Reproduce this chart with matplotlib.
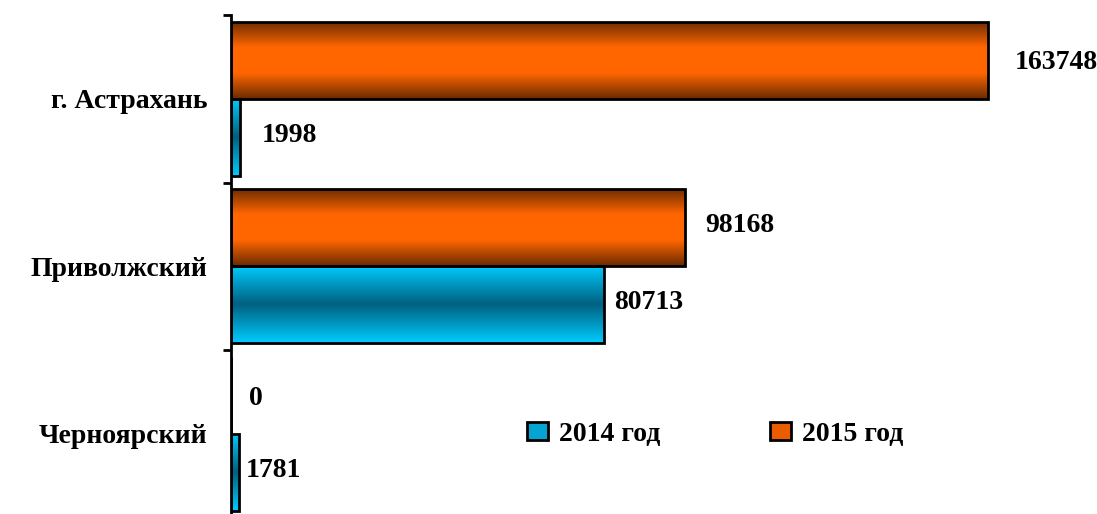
import numpy as np
import matplotlib
matplotlib.use('Agg')
import matplotlib.pyplot as plt
from matplotlib.colors import LinearSegmentedColormap
from matplotlib.patches import Rectangle
from matplotlib.legend_handler import HandlerPatch

plt.rcParams.update({
    'font.family': ['Liberation Serif', 'DejaVu Serif'],
    'font.weight': 'bold',
    'font.size': 20,
})

categories = ['г. Астрахань', 'Приволжский', 'Черноярский']
series_names = ['2014 год', '2015 год']
values_2014 = [1998, 80713, 1781]
values_2015 = [163748, 98168, 0]
# value-label offsets in pixels (x, y) as placed in the original
offsets_2014 = [(22, -2), (10, -2), (7, -2)]
offsets_2015 = [(27, 2), (20, -2), (18, 3)]

cmap_2014 = LinearSegmentedColormap.from_list('c14', ['#00ccff', '#006080', '#00ccff'])
cmap_2015 = LinearSegmentedColormap.from_list('c15', ['#6a2a00', '#ff6600', '#ff6600', '#6a2a00'])

fig = plt.figure(figsize=(10.97, 5.14), dpi=100)
ax = fig.add_axes([231 / 1097, -3.5 / 514, 832 / 1097, 502.5 / 514])

y = np.arange(len(categories))
h = 0.46
bars_15 = ax.barh(y - h / 2, values_2015, height=h, facecolor='none',
                  edgecolor='black', linewidth=2, zorder=3)
bars_14 = ax.barh(y + h / 2, values_2014, height=h, facecolor='none',
                  edgecolor='black', linewidth=2, zorder=3)

grad = np.linspace(0, 1, 256).reshape(-1, 1)


def fill_gradient(bars, cmap):
    for b in bars:
        x0, y0 = b.get_x(), b.get_y()
        w, hh = b.get_width(), b.get_height()
        if w <= 0:
            continue
        im = ax.imshow(grad, extent=[x0, x0 + w, y0 + hh, y0], aspect='auto',
                       cmap=cmap, interpolation='bilinear', zorder=2)
        im.set_clip_path(b)


fill_gradient(bars_15, cmap_2015)
fill_gradient(bars_14, cmap_2014)

ax.set_xlim(0, 180000)
ax.set_ylim(2.5, -0.5)
ax.set_aspect('auto')

for bars, vals, offs in [(bars_15, values_2015, offsets_2015),
                         (bars_14, values_2014, offsets_2014)]:
    for b, v, (dx, dy) in zip(bars, vals, offs):
        ax.annotate(f'{v}', xy=(b.get_width(), b.get_y() + b.get_height() / 2),
                    xytext=(dx * 0.72, -dy * 0.72), textcoords='offset points',
                    ha='left', va='center', fontsize=20, fontweight='bold',
                    annotation_clip=False)

for s in ['top', 'right', 'bottom']:
    ax.spines[s].set_visible(False)
ax.spines['left'].set_linewidth(2)
ax.set_xticks([])
ax.set_yticks(y)
ax.set_yticklabels(categories, fontsize=20, fontweight='bold')
ax.tick_params(axis='y', which='major', length=0, pad=17)
ax.set_yticks(np.arange(-0.5, len(categories) + 0.5, 1), minor=True)
ax.tick_params(axis='y', which='minor', length=6, width=2, direction='out')


class GradHandler(HandlerPatch):
    def __init__(self, cmap):
        super().__init__()
        self.cmap = cmap

    def create_artists(self, legend, orig_handle, xdescent, ydescent, width,
                       height, fontsize, trans):
        r = Rectangle((-xdescent, -ydescent), width, height,
                      facecolor=self.cmap(0.5), edgecolor='black', lw=2,
                      transform=trans)
        return [r]


h14 = Rectangle((0, 0), 1, 1)
h15 = Rectangle((0, 0), 1, 1)
fig.legend([h14, h15], series_names, loc='center left',
           bbox_to_anchor=(502 / 1097, 1 - 434 / 514), ncol=2, frameon=False,
           handlelength=0.75, handleheight=0.6, handletextpad=0.4,
           columnspacing=3.95, prop={'weight': 'bold', 'size': 20},
           handler_map={h14: GradHandler(LinearSegmentedColormap.from_list('l14', ['#00ccff', '#0a7fa8'])),
                        h15: GradHandler(LinearSegmentedColormap.from_list('l15', ['#ff6600', '#d65200']))})

fig.savefig('out.png', dpi=100)
